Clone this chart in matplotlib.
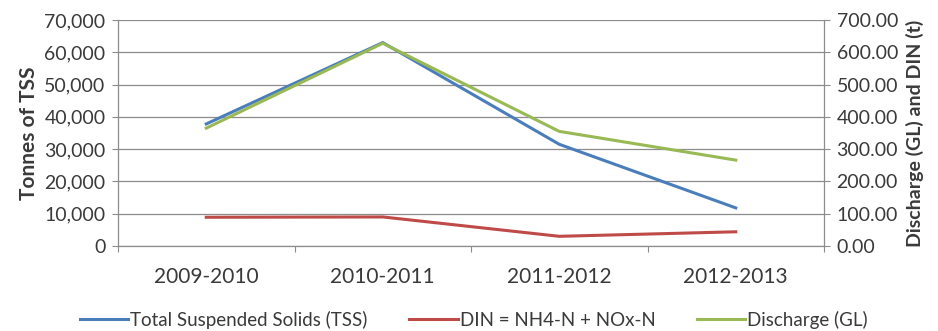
import matplotlib
matplotlib.use("Agg")
import matplotlib.pyplot as plt
from matplotlib.ticker import FuncFormatter, MultipleLocator, FixedLocator

plt.rcParams['font.family'] = ['Lato', 'DejaVu Sans']

years = ["2009-2010", "2010-2011", "2011-2012", "2012-2013"]
tss = [37800, 63000, 31500, 11800]          # tonnes
din = [89, 90, 30, 44]                       # tonnes
discharge = [365, 628, 355, 266]             # GL

c_tss = "#4A7EBB"
c_din = "#BE4B48"
c_dis = "#98B954"
grid_c = "#8C8C8C"
text_c = "#3A3A3A"

fig = plt.figure(figsize=(9.38, 3.31), dpi=100)
ax = fig.add_axes([0.1258, 0.2568, 0.7527, 0.6828])
ax2 = ax.twinx()

x = [i + 0.5 for i in range(len(years))]

ax.set_xlim(0, len(years))
ax.set_ylim(0, 70000)
ax2.set_ylim(0, 700)

ax.yaxis.set_major_locator(MultipleLocator(10000))
ax.yaxis.set_major_formatter(FuncFormatter(lambda v, p: f"{v:,.0f}"))
ax2.yaxis.set_major_locator(MultipleLocator(100))
ax2.yaxis.set_major_formatter(FuncFormatter(lambda v, p: f"{v:.2f}"))

ax.grid(axis='y', color=grid_c, linewidth=0.9)
ax.set_axisbelow(True)

l1, = ax.plot(x, tss, color=c_tss, linewidth=2.2, label="Total Suspended Solids (TSS)", zorder=3)
l2, = ax2.plot(x, din, color=c_din, linewidth=2.2, label="DIN = NH4-N + NOx-N", zorder=3)
l3, = ax2.plot(x, discharge, color=c_dis, linewidth=2.2, label="Discharge (GL)", zorder=4)

# category labels centred, tick marks on category boundaries
ax.xaxis.set_major_locator(FixedLocator(range(len(years) + 1)))
ax.xaxis.set_major_formatter(FuncFormatter(lambda v, p: ""))
ax.set_xticks(x, minor=True)
ax.set_xticklabels(years, minor=True)
ax.tick_params(axis='x', which='major', length=4, color=grid_c, direction='out')
ax.tick_params(axis='x', which='minor', length=0, pad=15, labelsize=15, labelcolor=text_c)
ax.tick_params(axis='y', length=4, color=grid_c, direction='out', labelsize=14, labelcolor=text_c, pad=5)
ax2.tick_params(axis='y', length=4, color=grid_c, direction='out', labelsize=14, labelcolor=text_c, pad=5)

for a in (ax, ax2):
    a.spines['top'].set_visible(False)
    for s in ('left', 'right', 'bottom'):
        a.spines[s].set_color(grid_c)
        a.spines[s].set_linewidth(0.9)
ax2.spines['left'].set_visible(False)
ax.spines['right'].set_visible(False)
ax2.spines['bottom'].set_visible(False)

ax.set_ylabel("Tonnes of TSS", fontsize=15, fontweight='bold', color=text_c, labelpad=4)
ax2.set_ylabel("Discharge (GL) and DIN (t)", fontsize=14, fontweight='bold', color=text_c, labelpad=6)

fig.legend(handles=[l1, l2, l3], loc='lower center', bbox_to_anchor=(0.505, -0.045),
           ncol=3, frameon=False, fontsize=13.5, handlelength=2.6, columnspacing=2.2,
           handletextpad=0.1, labelcolor=text_c)

fig.savefig("out.png", dpi=100, facecolor='white')
